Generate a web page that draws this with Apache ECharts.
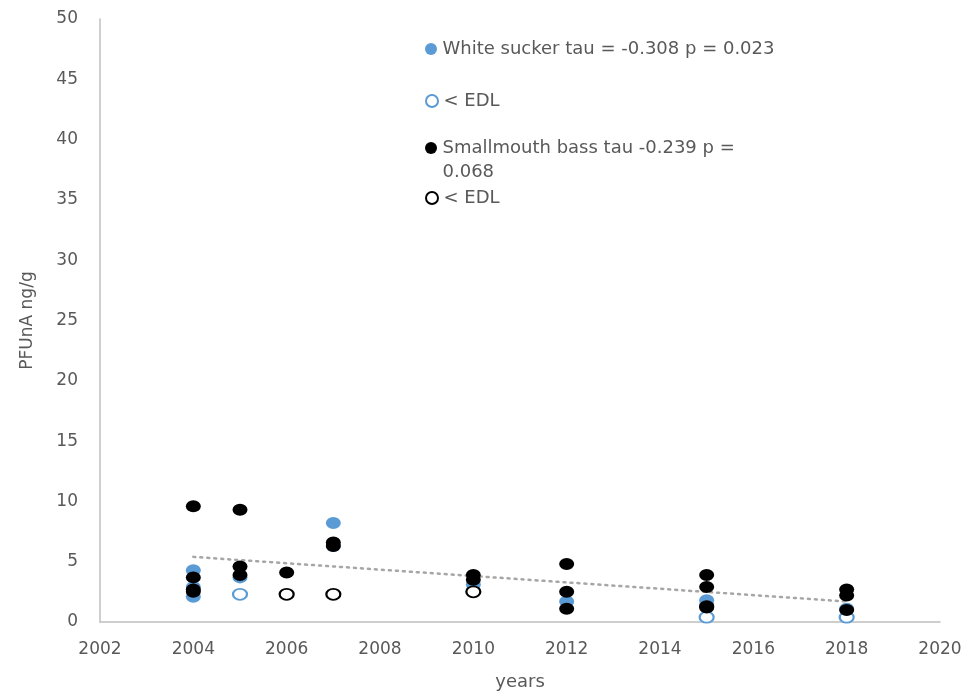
<!DOCTYPE html>
<html>
<head>
<meta charset="utf-8">
<script src="https://cdn.jsdelivr.net/npm/echarts@6/dist/echarts.min.js"></script>
<style>
  html, body { margin: 0; padding: 0; background: #fff; }
  #chart { width: 968px; height: 696px; }
</style>
</head>
<body>
<div id="chart"></div>
<script>
// [year, PFUnA ng/g]
const whiteSucker = [
  [2004, 4.3], [2004, 2.9], [2004, 2.1],
  [2005, 3.7],
  [2007, 8.2], [2007, 6.3],
  [2010, 3.1], [2010, 2.6],
  [2012, 1.7],
  [2015, 1.8], [2015, 1.4],
  [2018, 1.1]
]
const whiteSuckerEdl = [[2005, 2.3], [2015, 0.4], [2018, 0.4]]
const smallmouth = [
  [2004, 9.6], [2004, 3.7], [2004, 2.7], [2004, 2.5],
  [2005, 9.3], [2005, 4.6], [2005, 3.9],
  [2006, 4.1],
  [2007, 6.6], [2007, 6.3],
  [2010, 3.9], [2010, 3.5],
  [2012, 4.8], [2012, 2.5], [2012, 1.1],
  [2015, 3.9], [2015, 2.9], [2015, 1.3], [2015, 1.2],
  [2018, 2.7], [2018, 2.2], [2018, 1.0]
]
const smallmouthEdl = [[2006, 2.3], [2007, 2.3], [2010, 2.5]]
const trendLine = [[2004, 5.4], [2018, 1.7]]

const names = [
  'White sucker tau = -0.308 p = 0.023',
  '< EDL',
  'Smallmouth bass tau -0.239 p = 0.068',
  '< EDL '
]

const blue = '#5b9bd5'
const txt = '#595959'
const font = 'DejaVu Sans'

const chart = echarts.init(document.getElementById('chart'))

function legendAt (name, top, extra) {
  return Object.assign({
    data: [name],
    left: 420,
    top: top,
    icon: 'circle',
    itemWidth: 13,
    itemHeight: 12,
    itemGap: 0,
    selectedMode: false,
    textStyle: { fontFamily: font, fontSize: 18, color: txt, lineHeight: 24 }
  }, extra || {})
}

chart.setOption({
  animation: false,
  textStyle: { fontFamily: font },
  grid: { left: 100, right: 28, top: 19, bottom: 62 },
  legend: [
    legendAt(names[0], 32),
    legendAt(names[1], 84),
    // empty first line keeps the icon level with the first text line
    legendAt(names[2], 107, { formatter: n => '\n' + n.replace('p = 0', 'p =\n0') }),
    legendAt(names[3], 181)
  ],
  xAxis: {
    type: 'value',
    min: 2002,
    max: 2020,
    interval: 2,
    name: 'years',
    nameLocation: 'middle',
    nameGap: 51,
    nameTextStyle: { fontFamily: font, fontSize: 18, color: txt },
    axisLine: { show: true, lineStyle: { color: '#bfbfbf', width: 1.5 } },
    axisTick: { show: false },
    splitLine: { show: false },
    axisLabel: { fontFamily: font, fontSize: 17, color: txt, margin: 19, formatter: v => String(v) }
  },
  yAxis: {
    type: 'value',
    min: 0,
    max: 50,
    interval: 5,
    name: 'PFUnA ng/g',
    nameLocation: 'middle',
    nameGap: 64,
    nameTextStyle: { fontFamily: font, fontSize: 17, color: txt },
    axisLine: { show: true, lineStyle: { color: '#bfbfbf', width: 1.5 } },
    axisTick: { show: false },
    splitLine: { show: false },
    axisLabel: { fontFamily: font, fontSize: 17, color: txt, margin: 22 }
  },
  series: [
    {
      name: names[0],
      type: 'scatter',
      data: whiteSucker,
      symbol: 'circle',
      symbolSize: [15, 12],
      itemStyle: { color: blue, opacity: 1 }
    },
    {
      name: names[1],
      type: 'scatter',
      data: whiteSuckerEdl,
      symbol: 'circle',
      symbolSize: [14, 11],
      itemStyle: { color: '#fff', borderColor: blue, borderWidth: 2, opacity: 1 }
    },
    {
      name: names[2],
      type: 'scatter',
      data: smallmouth,
      symbol: 'circle',
      symbolSize: [15, 12],
      itemStyle: { color: '#000', opacity: 1 }
    },
    {
      name: names[3],
      type: 'scatter',
      data: smallmouthEdl,
      symbol: 'circle',
      symbolSize: [14, 11],
      itemStyle: { color: '#fff', borderColor: '#000', borderWidth: 2, opacity: 1 }
    },
    {
      name: 'trend',
      type: 'line',
      data: trendLine,
      symbol: 'none',
      silent: true,
      z: 1,
      lineStyle: { color: '#a6a6a6', width: 2.5, type: [2, 5], cap: 'round' }
    }
  ]
})
</script>
</body>
</html>
